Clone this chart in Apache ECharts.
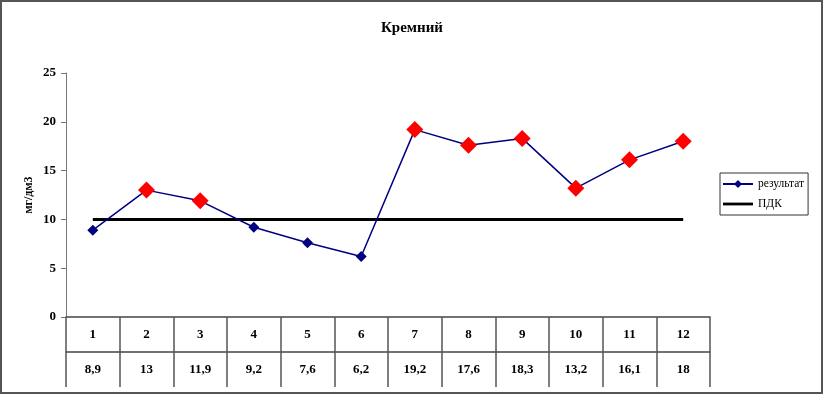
<!DOCTYPE html>
<html><head><meta charset="utf-8">
<script src="https://cdn.jsdelivr.net/npm/echarts@6/dist/echarts.min.js"></script>
<style>html,body{margin:0;padding:0;background:#fff}#c{width:824px;height:395px}</style>
</head><body><div id="c"></div>
<script>
const categories = ['1','2','3','4','5','6','7','8','9','10','11','12'];
const results = [8.9, 13, 11.9, 9.2, 7.6, 6.2, 19.2, 17.6, 18.3, 13.2, 16.1, 18];
const pdkValue = 10;
const pdk = categories.map(() => pdkValue);
const valueLabels = results.map(v => String(v).replace('.', ','));
const yTicks = [0, 5, 10, 15, 20, 25];

const serif = '"Liberation Serif", "Times New Roman", serif';
const chart = echarts.init(document.getElementById('c'));
chart.setOption({
  animation: false,
  backgroundColor: '#fff',
  title: {text: 'Кремний', left: 'center', top: 16,
    textStyle: {fontFamily: serif, fontSize: 15, fontWeight: 'bold', color: '#000'}},
  legend: {
    orient: 'vertical', left: 720, top: 173, padding: [5, 4, 5, 2],
    borderColor: '#333', borderWidth: 1, itemWidth: 30, itemHeight: 10, itemGap: 8,
    textStyle: {fontFamily: serif, fontSize: 11.5, color: '#000'},
    data: [{name: 'результат'},
      {name: 'ПДК', icon: 'path://M0,0 L0,0 M0,3.6 L30,3.6 L30,6.4 L0,6.4 Z M30,10 L30,10', itemStyle: {color: '#000'}}]
  },
  grid: {left: 66, top: 73, right: 114, bottom: 78, containLabel: false},
  xAxis: [{
    type: 'category', data: categories, boundaryGap: true, position: 'bottom',
    axisLine: {show: true, lineStyle: {color: '#444', width: 1.5}},
    axisTick: {show: true, inside: false, length: 70, alignWithLabel: false, lineStyle: {color: '#555', width: 1.5}},
    axisLabel: {margin: 11, fontFamily: serif, fontSize: 13, fontWeight: 'bold', color: '#000'}
  }, {
    type: 'category', data: valueLabels, boundaryGap: true, position: 'bottom', offset: 35,
    axisLine: {show: true, lineStyle: {color: '#444', width: 1.5}},
    axisTick: {show: false},
    axisLabel: {margin: 11, fontFamily: serif, fontSize: 13, fontWeight: 'bold', color: '#000'}
  }],
  yAxis: {
    type: 'value', min: yTicks[0], max: yTicks[yTicks.length - 1], interval: 5,
    name: 'мг/дм3', nameLocation: 'middle', nameGap: 31, nameMoveOverlap: false,
    nameTextStyle: {fontFamily: serif, fontSize: 12, fontWeight: 'bold', color: '#000'},
    axisLine: {show: true, lineStyle: {color: '#777', width: 1}},
    axisTick: {show: true, inside: false, length: 5, lineStyle: {color: '#777'}},
    axisLabel: {margin: 10, fontFamily: serif, fontSize: 13, fontWeight: 'bold', color: '#000'},
    splitLine: {show: false}
  },
  series: [{
    name: 'ПДК', type: 'line', data: pdk, symbol: 'none', z: 2,
    lineStyle: {color: '#000', width: 3}, itemStyle: {color: '#000'}
  }, {
    name: 'результат', type: 'line', z: 3,
    data: results.map(v => v > pdkValue
      ? {value: v, symbolSize: 17, itemStyle: {color: '#ff0000'}}
      : {value: v, symbolSize: 11, itemStyle: {color: '#000080'}}),
    symbol: 'diamond', symbolSize: 11,
    lineStyle: {color: '#000080', width: 1.5}, itemStyle: {color: '#000080'}
  }],
  graphic: [{type: 'rect', shape: {x: 1, y: 1, width: 821, height: 392},
    style: {fill: 'none', stroke: '#555', lineWidth: 2}, silent: true}]
});
</script></body></html>
